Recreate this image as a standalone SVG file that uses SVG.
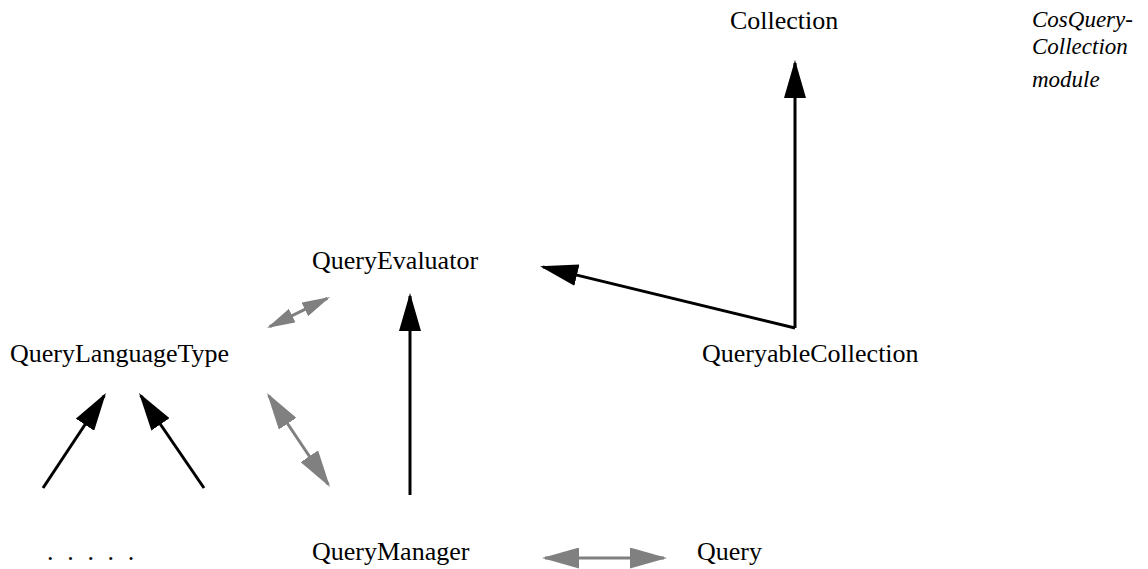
<svg xmlns="http://www.w3.org/2000/svg" width="1148" height="569" viewBox="0 0 1148 569">
<style>
.t{font-family:"Liberation Serif","Times New Roman",serif;font-size:26px;fill:#000}
.i{font-family:"Liberation Serif","Times New Roman",serif;font-size:23px;font-style:italic;fill:#000}
.b{stroke:#000;stroke-width:3;fill:none}
.g{stroke:#808080;stroke-width:3;fill:none}
</style>
<defs>
<marker id="ab" viewBox="0 0 38 22" refX="35" refY="11" markerWidth="38" markerHeight="22" markerUnits="userSpaceOnUse" orient="auto"><path d="M0,0 L38,11 L0,22 z" fill="#000"/></marker>
<marker id="ag" viewBox="0 0 37 21" refX="34" refY="10.5" markerWidth="37" markerHeight="21" markerUnits="userSpaceOnUse" orient="auto-start-reverse"><path d="M0,0 L37,10.5 L0,21 z" fill="#808080"/></marker>
<marker id="ags" viewBox="0 0 28 15" refX="25" refY="7.5" markerWidth="28" markerHeight="15" markerUnits="userSpaceOnUse" orient="auto-start-reverse"><path d="M0,0 L28,7.5 L0,15 z" fill="#808080"/></marker>
</defs>
<rect width="1148" height="569" fill="#fff"/>
<g id="connectors">
<path class="b" d="M795,328 L795,63" marker-end="url(#ab)"/>
<path class="b" d="M795,328 L542.9,266.9" marker-end="url(#ab)"/>
<path class="b" d="M410,495 L410,296" marker-end="url(#ab)"/>
<path class="b" d="M43,488 L104.3,395.5" marker-end="url(#ab)"/>
<path class="b" d="M204,488 L140.7,395.5" marker-end="url(#ab)"/>
<path class="g" d="M269.7,326.7 L327.3,298.3" marker-start="url(#ags)" marker-end="url(#ags)"/>
<path class="g" d="M268.7,395.5 L328.3,484.5" marker-start="url(#ag)" marker-end="url(#ag)"/>
<path class="g" d="M545,558 L664,558" marker-start="url(#ag)" marker-end="url(#ag)"/>
</g>
<g id="n-collection"><text class="t" x="730" y="29">Collection</text></g>
<g id="n-module"><text class="i" x="1032" y="27">CosQuery-</text><text class="i" x="1032" y="54">Collection</text><text class="i" x="1032" y="87">module</text></g>
<g id="n-queryevaluator"><text class="t" x="312" y="269">QueryEvaluator</text></g>
<g id="n-querylanguagetype"><text class="t" x="10" y="362">QueryLanguageType</text></g>
<g id="n-queryablecollection"><text class="t" x="702" y="362">QueryableCollection</text></g>
<g id="n-dots"><text class="t" x="47" y="560" style="letter-spacing:3.6px">. . . . .</text></g>
<g id="n-querymanager"><text class="t" x="312" y="560">QueryManager</text></g>
<g id="n-query"><text class="t" x="697" y="560">Query</text></g>
</svg>
